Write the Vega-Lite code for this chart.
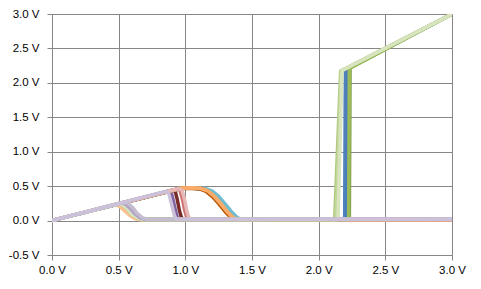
{
  "$schema": "https://vega.github.io/schema/vega-lite/v6.json",
  "autosize": {"type": "none"},
  "width": 400,
  "height": 241,
  "padding": {"left": 52, "top": 14, "right": 29, "bottom": 34},
  "background": "#ffffff",
  "config": {"view": {"stroke": null}},
  "data": {"values": [
    {"s":"a01","x":0,"y":0},{"s":"a01","x":0.97,"y":0.47},{"s":"a01","x":1.05,"y":0.475},{"s":"a01","x":1.12,"y":0.465},{"s":"a01","x":1.17,"y":0.43},{"s":"a01","x":1.22,"y":0.35},{"s":"a01","x":1.27,"y":0.24},{"s":"a01","x":1.32,"y":0.12},{"s":"a01","x":1.36,"y":0.04},{"s":"a01","x":1.4,"y":0.015},{"s":"a01","x":2.195,"y":0.015},{"s":"a01","x":2.2,"y":2.2},{"s":"a01","x":3.0,"y":3.0},

    {"s":"a02","x":0,"y":0},{"s":"a02","x":0.97,"y":0.47},{"s":"a02","x":1.06,"y":0.475},{"s":"a02","x":1.14,"y":0.465},{"s":"a02","x":1.19,"y":0.43},{"s":"a02","x":1.24,"y":0.35},{"s":"a02","x":1.29,"y":0.24},{"s":"a02","x":1.34,"y":0.12},{"s":"a02","x":1.38,"y":0.04},{"s":"a02","x":1.42,"y":0.015},{"s":"a02","x":3.0,"y":0.012},

    {"s":"a03","x":0,"y":0},{"s":"a03","x":0.97,"y":0.47},{"s":"a03","x":1.06,"y":0.472},{"s":"a03","x":1.145,"y":0.46},{"s":"a03","x":1.195,"y":0.425},{"s":"a03","x":1.245,"y":0.345},{"s":"a03","x":1.295,"y":0.235},{"s":"a03","x":1.345,"y":0.115},{"s":"a03","x":1.385,"y":0.04},{"s":"a03","x":1.425,"y":0.015},{"s":"a03","x":3.0,"y":0.015},

    {"s":"a04","x":0,"y":0},{"s":"a04","x":0.97,"y":0.468},{"s":"a04","x":1.05,"y":0.47},{"s":"a04","x":1.13,"y":0.46},{"s":"a04","x":1.18,"y":0.425},{"s":"a04","x":1.23,"y":0.345},{"s":"a04","x":1.28,"y":0.235},{"s":"a04","x":1.33,"y":0.115},{"s":"a04","x":1.37,"y":0.04},{"s":"a04","x":1.41,"y":0.015},{"s":"a04","x":3.0,"y":0.015},

    {"s":"a05","x":0,"y":0},{"s":"a05","x":0.88,"y":0.43},{"s":"a05","x":0.895,"y":0.4},{"s":"a05","x":0.91,"y":0.29},{"s":"a05","x":0.925,"y":0.15},{"s":"a05","x":0.94,"y":0.05},{"s":"a05","x":0.955,"y":0.015},{"s":"a05","x":3.0,"y":0.02},

    {"s":"a06","x":0,"y":0},{"s":"a06","x":0.91,"y":0.445},{"s":"a06","x":0.925,"y":0.42},{"s":"a06","x":0.94,"y":0.3},{"s":"a06","x":0.955,"y":0.15},{"s":"a06","x":0.97,"y":0.05},{"s":"a06","x":0.985,"y":0.015},{"s":"a06","x":3.0,"y":0.015},

    {"s":"a07","x":0,"y":0},{"s":"a07","x":0.52,"y":0.255},{"s":"a07","x":0.55,"y":0.24},{"s":"a07","x":0.59,"y":0.17},{"s":"a07","x":0.62,"y":0.1},{"s":"a07","x":0.66,"y":0.04},{"s":"a07","x":0.7,"y":0.015},{"s":"a07","x":3.0,"y":0.015},

    {"s":"a08","x":0,"y":0},{"s":"a08","x":0.5,"y":0.245},{"s":"a08","x":0.53,"y":0.23},{"s":"a08","x":0.57,"y":0.16},{"s":"a08","x":0.6,"y":0.09},{"s":"a08","x":0.64,"y":0.04},{"s":"a08","x":0.68,"y":0.015},{"s":"a08","x":2.23,"y":0.015},{"s":"a08","x":2.235,"y":2.215},{"s":"a08","x":3.0,"y":3.0},

    {"s":"a09","x":0,"y":0},{"s":"a09","x":0.97,"y":0.47},{"s":"a09","x":1.05,"y":0.475},{"s":"a09","x":1.12,"y":0.465},{"s":"a09","x":1.17,"y":0.43},{"s":"a09","x":1.22,"y":0.35},{"s":"a09","x":1.27,"y":0.24},{"s":"a09","x":1.32,"y":0.12},{"s":"a09","x":1.36,"y":0.04},{"s":"a09","x":1.4,"y":0.015},{"s":"a09","x":2.21,"y":0.015},{"s":"a09","x":2.215,"y":2.205},{"s":"a09","x":3.0,"y":3.0},

    {"s":"a10","x":0,"y":0},{"s":"a10","x":0.97,"y":0.47},{"s":"a10","x":1.06,"y":0.475},{"s":"a10","x":1.15,"y":0.465},{"s":"a10","x":1.2,"y":0.43},{"s":"a10","x":1.25,"y":0.35},{"s":"a10","x":1.3,"y":0.24},{"s":"a10","x":1.35,"y":0.12},{"s":"a10","x":1.39,"y":0.04},{"s":"a10","x":1.43,"y":0.015},{"s":"a10","x":3.0,"y":0.015},

    {"s":"a11","x":0,"y":0},{"s":"a11","x":0.96,"y":0.465},{"s":"a11","x":1.04,"y":0.47},{"s":"a11","x":1.105,"y":0.46},{"s":"a11","x":1.155,"y":0.425},{"s":"a11","x":1.205,"y":0.345},{"s":"a11","x":1.255,"y":0.235},{"s":"a11","x":1.305,"y":0.115},{"s":"a11","x":1.345,"y":0.04},{"s":"a11","x":1.385,"y":0.015},{"s":"a11","x":3.0,"y":0.015},

    {"s":"a12","x":0,"y":0},{"s":"a12","x":0.97,"y":0.472},{"s":"a12","x":1.05,"y":0.478},{"s":"a12","x":1.115,"y":0.468},{"s":"a12","x":1.165,"y":0.433},{"s":"a12","x":1.215,"y":0.353},{"s":"a12","x":1.265,"y":0.243},{"s":"a12","x":1.315,"y":0.123},{"s":"a12","x":1.355,"y":0.042},{"s":"a12","x":1.395,"y":0.017},{"s":"a12","x":3.0,"y":0.017},

    {"s":"a13","x":0,"y":0},{"s":"a13","x":0.97,"y":0.47},{"s":"a13","x":1.05,"y":0.475},{"s":"a13","x":1.12,"y":0.465},{"s":"a13","x":1.17,"y":0.43},{"s":"a13","x":1.22,"y":0.35},{"s":"a13","x":1.27,"y":0.24},{"s":"a13","x":1.32,"y":0.12},{"s":"a13","x":1.36,"y":0.04},{"s":"a13","x":1.4,"y":0.015},{"s":"a13","x":3.0,"y":0.015},

    {"s":"a14","x":0,"y":0},{"s":"a14","x":0.94,"y":0.46},{"s":"a14","x":0.96,"y":0.44},{"s":"a14","x":0.98,"y":0.3},{"s":"a14","x":0.995,"y":0.15},{"s":"a14","x":1.01,"y":0.05},{"s":"a14","x":1.025,"y":0.015},{"s":"a14","x":3.0,"y":0.015},

    {"s":"a15","x":0,"y":0},{"s":"a15","x":0.95,"y":0.465},{"s":"a15","x":0.975,"y":0.44},{"s":"a15","x":0.995,"y":0.3},{"s":"a15","x":1.01,"y":0.15},{"s":"a15","x":1.025,"y":0.05},{"s":"a15","x":1.04,"y":0.015},{"s":"a15","x":3.0,"y":0.015},

    {"s":"a16","x":0,"y":0},{"s":"a16","x":0.47,"y":0.23},{"s":"a16","x":0.5,"y":0.215},{"s":"a16","x":0.54,"y":0.15},{"s":"a16","x":0.58,"y":0.08},{"s":"a16","x":0.62,"y":0.03},{"s":"a16","x":0.66,"y":0.012},{"s":"a16","x":3.0,"y":0.012},

    {"s":"a17","x":0,"y":0},{"s":"a17","x":0.5,"y":0.245},{"s":"a17","x":0.53,"y":0.23},{"s":"a17","x":0.57,"y":0.16},{"s":"a17","x":0.6,"y":0.09},{"s":"a17","x":0.64,"y":0.04},{"s":"a17","x":0.68,"y":0.015},{"s":"a17","x":2.225,"y":0.015},{"s":"a17","x":2.23,"y":2.21},{"s":"a17","x":3.0,"y":3.0},

    {"s":"a18","x":0,"y":0},{"s":"a18","x":0.5,"y":0.245},{"s":"a18","x":0.53,"y":0.23},{"s":"a18","x":0.57,"y":0.16},{"s":"a18","x":0.6,"y":0.09},{"s":"a18","x":0.64,"y":0.04},{"s":"a18","x":0.68,"y":0.015},{"s":"a18","x":2.12,"y":0.015},{"s":"a18","x":2.165,"y":2.17},{"s":"a18","x":3.0,"y":3.0},

    {"s":"a19","x":0,"y":0},{"s":"a19","x":0.5,"y":0.245},{"s":"a19","x":0.53,"y":0.23},{"s":"a19","x":0.57,"y":0.16},{"s":"a19","x":0.6,"y":0.09},{"s":"a19","x":0.64,"y":0.04},{"s":"a19","x":0.68,"y":0.015},{"s":"a19","x":2.13,"y":0.015},{"s":"a19","x":2.17,"y":2.175},{"s":"a19","x":3.0,"y":3.0},

    {"s":"a20","x":0,"y":0},{"s":"a20","x":0.5,"y":0.245},{"s":"a20","x":0.53,"y":0.23},{"s":"a20","x":0.57,"y":0.16},{"s":"a20","x":0.6,"y":0.09},{"s":"a20","x":0.64,"y":0.04},{"s":"a20","x":0.68,"y":0.015},{"s":"a20","x":2.145,"y":0.015},{"s":"a20","x":2.175,"y":2.18},{"s":"a20","x":3.0,"y":3.0},

    {"s":"a21","x":0,"y":0},{"s":"a21","x":0.52,"y":0.255},{"s":"a21","x":0.55,"y":0.24},{"s":"a21","x":0.59,"y":0.17},{"s":"a21","x":0.62,"y":0.1},{"s":"a21","x":0.66,"y":0.04},{"s":"a21","x":0.7,"y":0.015},{"s":"a21","x":3.0,"y":0.02},

    {"s":"a22","x":0,"y":0},{"s":"a22","x":0.54,"y":0.265},{"s":"a22","x":0.57,"y":0.25},{"s":"a22","x":0.61,"y":0.18},{"s":"a22","x":0.64,"y":0.1},{"s":"a22","x":0.68,"y":0.04},{"s":"a22","x":0.72,"y":0.015},{"s":"a22","x":3.0,"y":0.02},

    {"s":"a23","x":0,"y":0},{"s":"a23","x":0.86,"y":0.425},{"s":"a23","x":0.875,"y":0.395},{"s":"a23","x":0.89,"y":0.29},{"s":"a23","x":0.905,"y":0.17},{"s":"a23","x":0.92,"y":0.06},{"s":"a23","x":0.935,"y":0.018},{"s":"a23","x":3.0,"y":0.022}
  ]},
  "mark": {"type": "line", "strokeWidth": 3.5, "strokeJoin": "round", "strokeCap": "round", "clip": true},
  "encoding": {
    "x": {
      "field": "x", "type": "quantitative",
      "scale": {"domain": [0, 3], "nice": false, "zero": false},
      "axis": {
        "values": [0, 0.5, 1, 1.5, 2, 2.5, 3],
        "labelExpr": "format(datum.value, '.1f') + ' V'",
        "title": null, "grid": true, "gridColor": "#868686", "gridWidth": 1,
        "domainColor": "#868686", "tickColor": "#868686", "tickSize": 5, "tickWidth": 1,
        "labelPadding": 4, "labelFont": "Liberation Sans", "labelFontSize": 11.5, "labelColor": "#000000",
        "labelFlush": false, "labelOverlap": false
      }
    },
    "y": {
      "field": "y", "type": "quantitative",
      "scale": {"domain": [-0.5, 3], "nice": false, "zero": false},
      "axis": {
        "values": [-0.5, 0, 0.5, 1, 1.5, 2, 2.5, 3],
        "labelExpr": "(datum.value < 0 ? '-' : '') + format(abs(datum.value), '.1f') + ' V'",
        "title": null, "grid": true, "gridColor": "#868686", "gridWidth": 1,
        "domainColor": "#868686", "tickColor": "#868686", "tickSize": 5, "tickWidth": 1,
        "labelPadding": 8, "labelFont": "Liberation Sans", "labelFontSize": 11.5, "labelColor": "#000000",
        "labelFlush": false, "labelOverlap": false
      }
    },
    "color": {
      "field": "s", "type": "nominal", "legend": null,
      "scale": {
        "domain": ["a01","a02","a03","a04","a05","a06","a07","a08","a09","a10","a11","a12","a13","a14","a15","a16","a17","a18","a19","a20","a21","a22","a23"],
        "range": ["#4F81BD","#C0504D","#4BACC6","#276A7C","#8064A2","#772C2A","#2C4D75","#77933C","#4A7EBB","#6FBDD1","#B65708","#F79646","#F9AB6B","#CD7371","#E6B9B8","#FAC090","#9BBB59","#AFC97A","#C3D69B","#D7E4BD","#B3A2C7","#C4BDD0","#CCC1DA"]
      }
    }
  }
}
